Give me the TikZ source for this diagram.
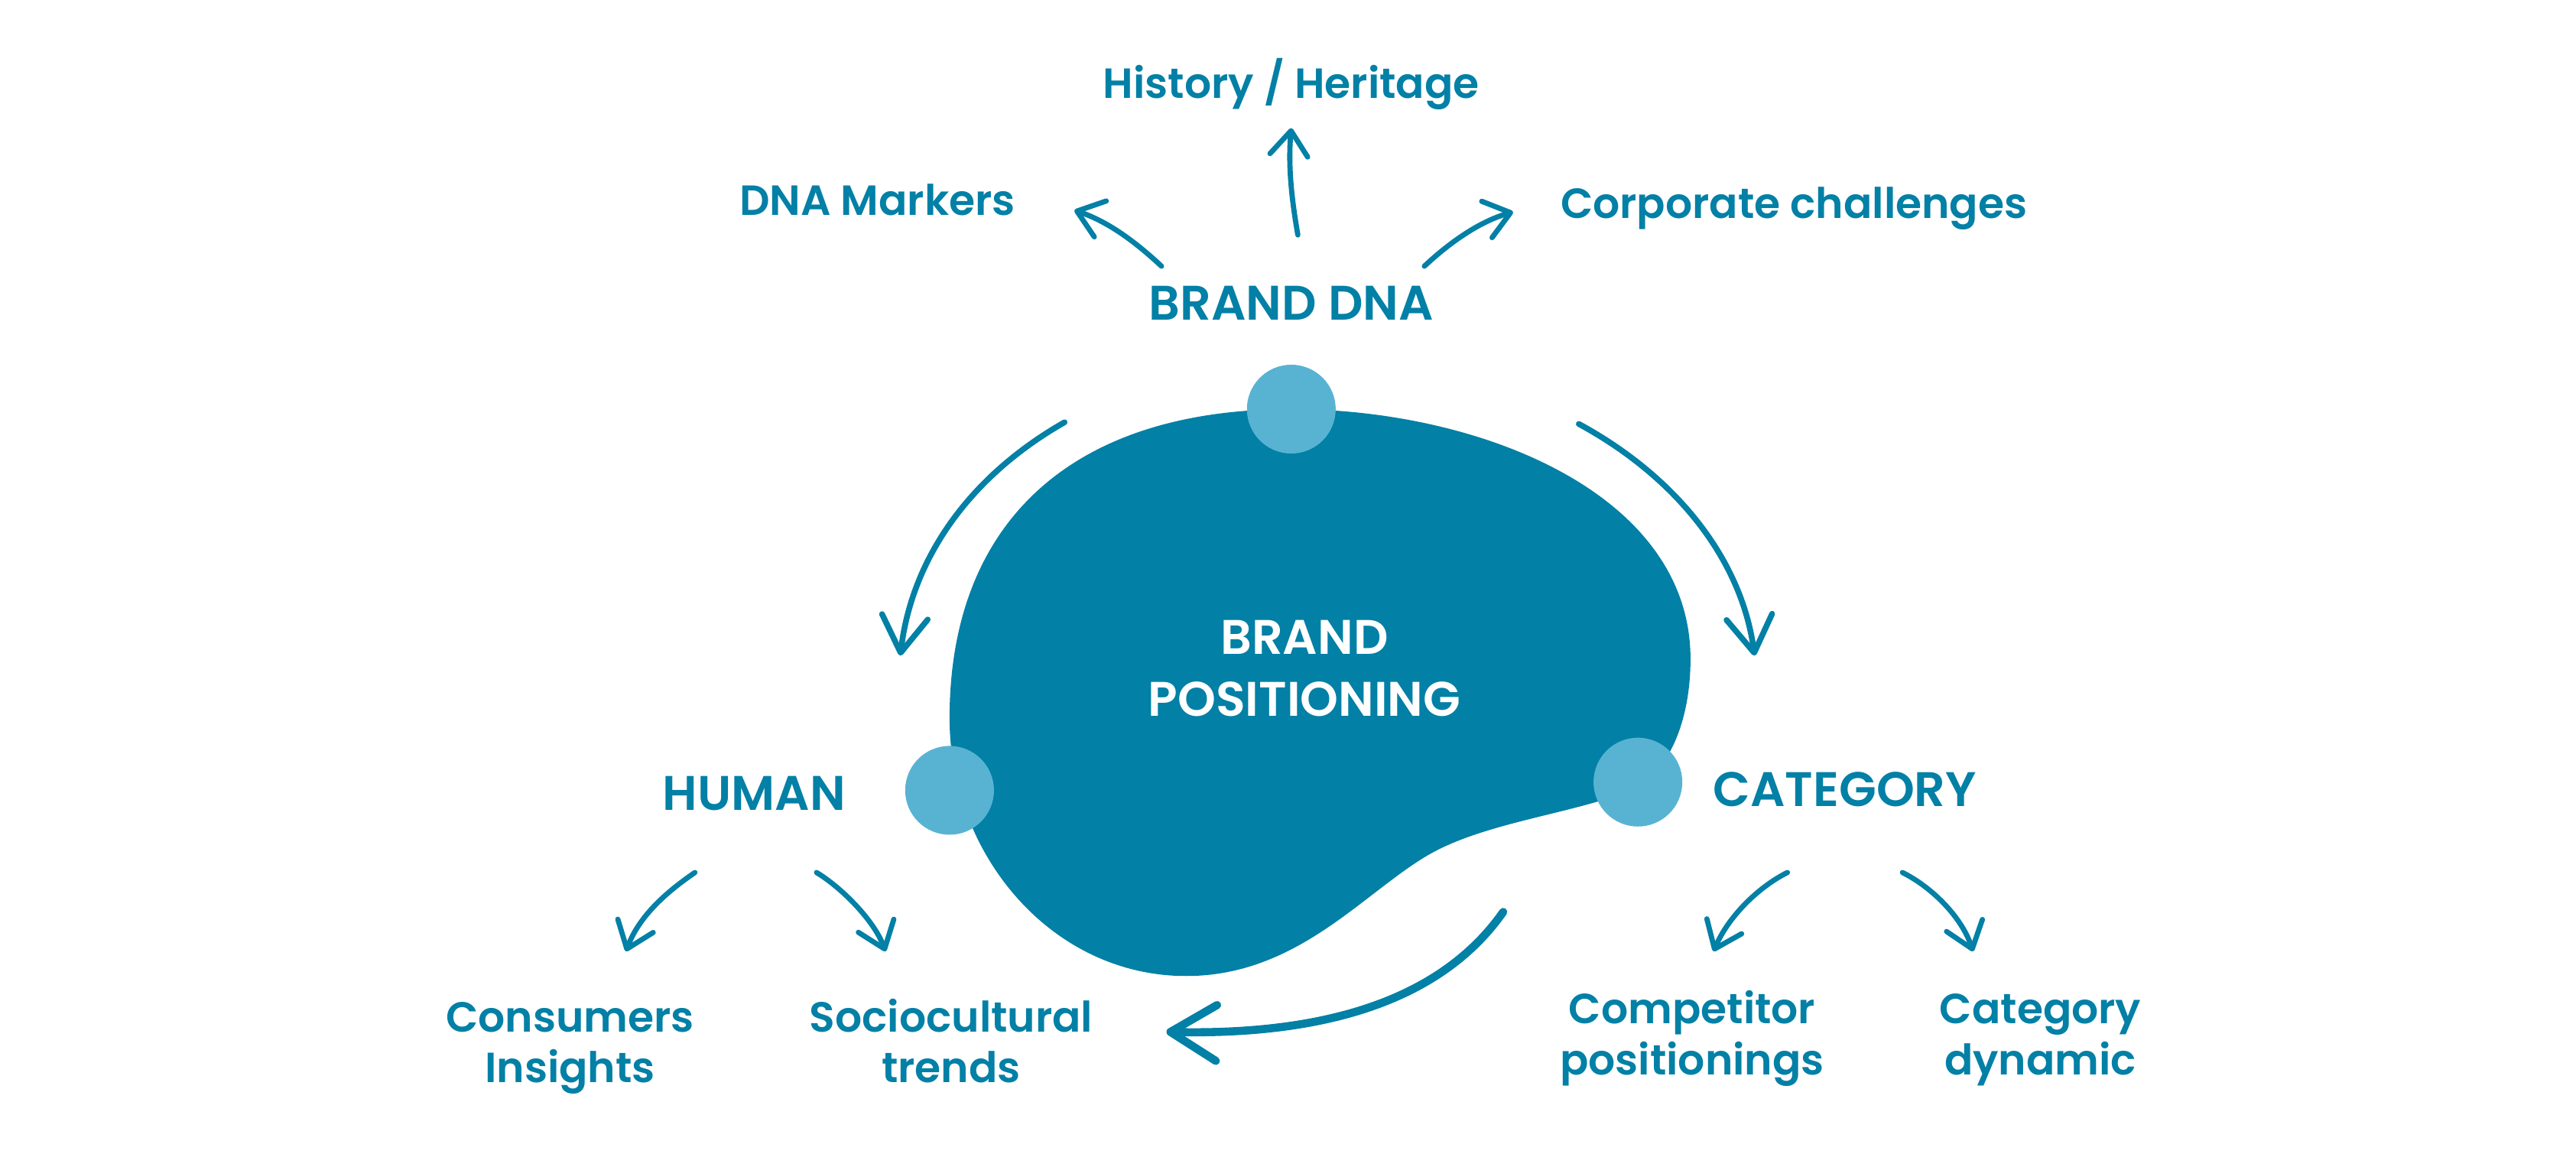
\documentclass[tikz,border=0pt]{standalone}
\usepackage{fontspec}
\setmainfont{Poppins}[BoldFont=* SemiBold]
\usetikzlibrary{arrows.meta,positioning}

\definecolor{deepteal}{HTML}{0280A6}
\definecolor{lightteal}{HTML}{58B3D3}

\tikzset{
    lbl/.style={text=deepteal, font=\bfseries\fontsize{7.3}{8.8}\selectfont, inner sep=0pt, align=center},
    hd/.style={text=deepteal, font=\bfseries\fontsize{8.4}{10.8}\selectfont, inner sep=0pt, align=center},
    dot/.style={circle, fill=lightteal, minimum size=0.54cm, inner sep=0pt},
    arr/.style={draw=deepteal, line width=0.9pt, line cap=round, -{Straight Barb[length=1.5mm,width=2.3mm,round]}},
    bigarr/.style={draw=deepteal, line width=1pt, line cap=round, -{Straight Barb[length=2.2mm,width=2.8mm,round]}},
    swoosh/.style={draw=deepteal, line width=1.4pt, line cap=round, -{Straight Barb[length=2.8mm,width=3.4mm,round]}}
}

\begin{document}
\begin{tikzpicture}[x=0.01cm,y=-0.01cm]
    \useasboundingbox (0,0) rectangle (1568,702.3);

    % the blob
    \fill[deepteal] (786,249)
        .. controls (900,249) and (1029,300) .. (1029,401)
        .. controls (1029,440) and (1015,470) .. (995,480)
        .. controls (960,495) and (905,500) .. (870,520)
        .. controls (830,543) and (790,594) .. (722,594)
        .. controls (640,594) and (578,520) .. (578,437)
        .. controls (578,320) and (650,249) .. (786,249) -- cycle;

    \node[dot] (pdna) at (786,249) {};
    \node[dot] (phuman) at (578,481) {};
    \node[dot] (pcat) at (997,476) {};

    \node[hd, text=white, anchor=base] (pos) at (794,436) {BRAND\\POSITIONING};

    \node[hd, anchor=base] (branddna) at (786,195) {BRAND DNA};
    \node[hd, anchor=base] (human) at (459,493) {HUMAN};
    \node[hd, anchor=base] (category) at (1123,491) {CATEGORY};

    \node[lbl, anchor=base] (history) at (786,60) {History / Heritage};
    \node[lbl, anchor=base] (markers) at (534,131) {DNA Markers};
    \node[lbl, anchor=base] (corporate) at (1092,133) {Corporate challenges};

    \node[lbl, anchor=base] (consumers) at (347,659) {Consumers\\Insights};
    \node[lbl, anchor=base] (socio) at (579,659) {Sociocultural\\trends};
    \node[lbl, anchor=base] (competitor) at (1030,654) {Competitor\\positionings};
    \node[lbl, anchor=base] (dynamic) at (1242,654) {Category\\dynamic};

    % arrow ends
    \coordinate (dnaL) at (707,162);
    \coordinate (markersE) at (654,128);
    \coordinate (dnaT) at (790,143);
    \coordinate (historyS) at (786,78);
    \coordinate (dnaR) at (867,162);
    \coordinate (corpW) at (921,129);
    \coordinate (arcLs) at (648,257);
    \coordinate (arcLe) at (548,399);
    \coordinate (arcRs) at (961,258);
    \coordinate (arcRe) at (1068,399);
    \coordinate (arcBs) at (915,555);
    \coordinate (arcBe) at (710,628);
    \coordinate (humL) at (423,531);
    \coordinate (consN) at (381,579);
    \coordinate (humR) at (497,531);
    \coordinate (socN) at (539,579);
    \coordinate (catL) at (1088,531);
    \coordinate (compN) at (1043,579);
    \coordinate (catR) at (1158,531);
    \coordinate (dynN) at (1201,579);

    \draw[arr] (dnaL) .. controls +(-15,-14) and +(21,7) .. (markersE);
    \draw[arr] (dnaT) .. controls +(-4,-23) and +(-2,22) .. (historyS);
    \draw[arr] (dnaR) .. controls +(15,-14) and +(-21,6) .. (corpW);

    \draw[bigarr] (arcLs) .. controls +(-58,33) and +(7,-59) .. (arcLe);
    \draw[bigarr] (arcRs) .. controls +(59,32) and +(-8,-59) .. (arcRe);
    \draw[swoosh] (arcBs) .. controls +(-40,57) and +(90,2) .. (arcBe);

    \draw[arr] (humL) .. controls +(-13,9) and +(9,-24) .. (consN);
    \draw[arr] (humR) .. controls +(15,9) and +(-7,-19) .. (socN);
    \draw[arr] (catL) .. controls +(-18,9) and +(9,-21) .. (compN);
    \draw[arr] (catR) .. controls +(18,9) and +(-7,-21) .. (dynN);
\end{tikzpicture}
\end{document}
